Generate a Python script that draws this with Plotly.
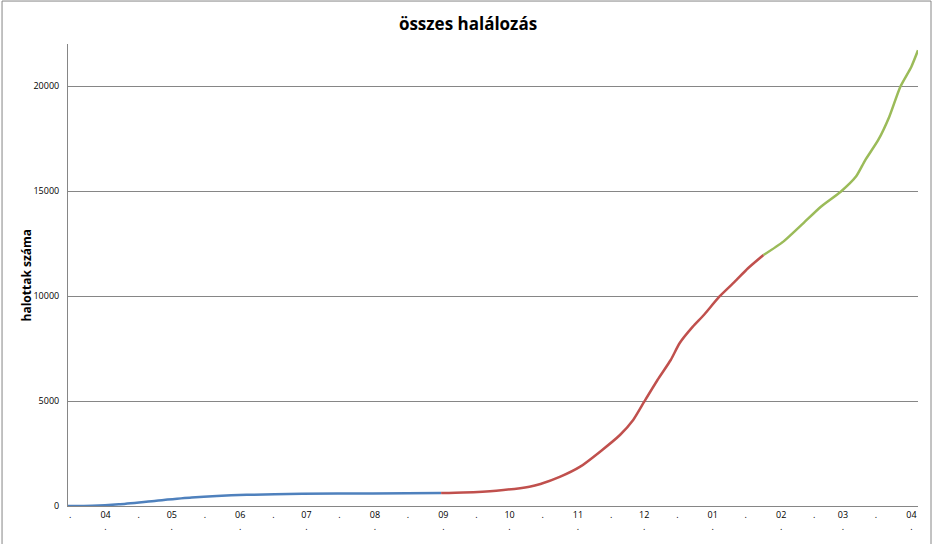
import plotly.graph_objects as go

# összes halálozás - three waves, cumulative deaths
wave1_dates = ["2020-03-15", "2020-03-26", "2020-04-07", "2020-04-24", "2020-05-10",
               "2020-06-04", "2020-06-29", "2020-07-31", "2020-08-31"]
wave1_vals = [0, 10, 80, 250, 400, 530, 585, 596, 614]

wave2_dates = ["2020-08-31", "2020-09-10", "2020-09-25", "2020-10-10", "2020-10-15",
               "2020-10-24", "2020-11-02", "2020-11-11", "2020-11-20", "2020-11-26",
               "2020-12-01", "2020-12-07", "2020-12-13", "2020-12-17", "2020-12-23",
               "2020-12-28", "2021-01-04", "2021-01-11", "2021-01-17", "2021-01-24"]
wave2_vals = [614, 640, 730, 920, 1048, 1397, 1873, 2587, 3381, 4095,
              4967, 6000, 6952, 7750, 8540, 9095, 9967, 10680, 11320, 11950]

wave3_dates = ["2021-01-24", "2021-02-02", "2021-02-11", "2021-02-19", "2021-02-28",
               "2021-03-07", "2021-03-11", "2021-03-17", "2021-03-22", "2021-03-27",
               "2021-04-01", "2021-04-04"]
wave3_vals = [11950, 12590, 13460, 14254, 14967, 15700, 16450, 17430, 18540, 19967,
              20920, 21700]

# x tick labels: month numbers on the 1st, a dot mid-month
tick_dates = ["2020-03-16", "2020-04-01", "2020-04-16", "2020-05-01", "2020-05-16",
              "2020-06-01", "2020-06-16", "2020-07-01", "2020-07-16", "2020-08-01",
              "2020-08-16", "2020-09-01", "2020-09-16", "2020-10-01", "2020-10-16",
              "2020-11-01", "2020-11-16", "2020-12-01", "2020-12-16", "2021-01-01",
              "2021-01-16", "2021-02-01", "2021-02-16", "2021-03-01", "2021-03-16",
              "2021-04-01"]
tick_text = [".", "04<br>.", ".", "05<br>.", ".", "06<br>.", ".", "07<br>.", ".", "08<br>.",
             ".", "09<br>.", ".", "10<br>.", ".", "11<br>.", ".", "12<br>.", ".", "01<br>.",
             ".", "02<br>.", ".", "03<br>.", ".", "04<br>."]

fig = go.Figure()
fig.add_trace(go.Scatter(x=wave1_dates, y=wave1_vals, mode="lines",
                         line=dict(color="#4F81BD", width=2.5, shape="spline", smoothing=0.6),
                         showlegend=False))
fig.add_trace(go.Scatter(x=wave2_dates, y=wave2_vals, mode="lines",
                         line=dict(color="#C0504D", width=2.5, shape="spline", smoothing=0.6),
                         showlegend=False))
fig.add_trace(go.Scatter(x=wave3_dates, y=wave3_vals, mode="lines",
                         line=dict(color="#9BBB59", width=2.5, shape="spline", smoothing=0.6),
                         showlegend=False))

fig.update_layout(
    width=936, height=544,
    margin=dict(l=68, r=18, t=44, b=38),
    paper_bgcolor="white", plot_bgcolor="white",
    font=dict(family="Open Sans", size=9, color="#000000"),
    title=dict(text="<b>összes halálozás</b>", x=0.5, xanchor="center",
               y=0.955, yanchor="middle", font=dict(size=17, family="Open Sans")),
    xaxis=dict(type="date", range=["2020-03-15", "2021-04-04"],
               tickvals=tick_dates, ticktext=tick_text, tickangle=0,
               showgrid=False, showline=True, linecolor="#868686", linewidth=1,
               ticks="", zeroline=False),
    yaxis=dict(range=[0, 22000], dtick=5000, tickformat="d",
               showgrid=True, gridcolor="#868686", gridwidth=1,
               showline=True, linecolor="#868686", linewidth=1,
               ticks="", zeroline=False, ticklabelstandoff=6),
    annotations=[dict(text="<b>halottak száma</b>", textangle=-90,
                      xref="paper", yref="paper", x=-0.05, y=0.5,
                      xanchor="center", yanchor="middle", showarrow=False,
                      font=dict(size=12, family="Open Sans"))],
    # outer chart frame (bottom edge falls just outside the window)
    shapes=[dict(type="rect", xref="paper", yref="paper",
                 x0=-0.0776, x1=1.0153, y0=-0.1, y1=1.093,
                 line=dict(color="#868686", width=1))],
)

fig.write_html("out.html", config={"displayModeBar": False},
               post_script="document.body.style.margin = '0';")
